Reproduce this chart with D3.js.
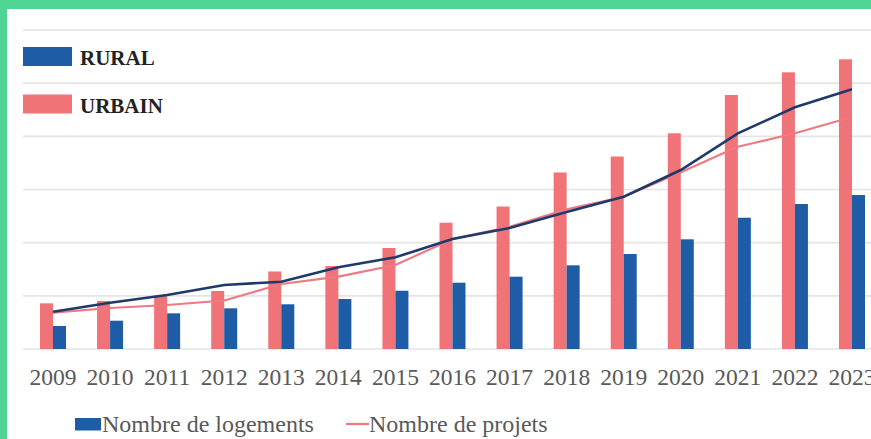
<!DOCTYPE html>
<html>
<head>
<meta charset="utf-8">
<script src="https://cdn.jsdelivr.net/npm/d3@7"></script>
<style>
  html, body { margin: 0; padding: 0; background: #4ed593; }
  svg { display: block; }
</style>
</head>
<body>
<svg id="chart" width="871" height="439"></svg>
<script>
// ---- data ----
const years = ["2009","2010","2011","2012","2013","2014","2015","2016","2017","2018","2019","2020","2021","2022","2023"];
const urbain = [859, 903, 1006, 1091, 1458, 1561, 1900, 2375, 2680, 3320, 3620, 4057, 4777, 5204, 5449];
const rural  = [433, 532, 671, 765, 841, 940, 1096, 1247, 1360, 1574, 1787, 2063, 2469, 2727, 2896];
const logements = [702, 871, 1016, 1204, 1266, 1537, 1725, 2069, 2276, 2577, 2864, 3367, 4057, 4546, 4884];
const projets   = [683, 771, 828, 912, 1222, 1360, 1580, 2069, 2300, 2627, 2864, 3323, 3805, 4057, 4363];
const barSeries = ["URBAIN", "RURAL"];
const topLegend = ["RURAL", "URBAIN"];
const bottomLegend = ["Nombre de logements", "Nombre de projets"];
const yTicks = [0, 1000, 2000, 3000, 4000, 5000, 6000];

// ---- styles ----
const C = {
  pinkBar: "#f07378",
  blueBar: "#1f5ca6",
  navyLine: "#1f3a6a",
  pinkLine: "#ec7a80",
  grid: "#e4e4e4",
  text: "#595959"
};
const serif = "'Liberation Serif', 'Times New Roman', serif";

const svg = d3.select("#chart");
svg.append("rect").attr("x", 7).attr("y", 9).attr("width", 864).attr("height", 430).attr("fill", "#ffffff");

const x = d3.scalePoint().domain(years).range([53, 852]);
const xs = d3.scaleBand().domain(barSeries).range([-13, 13]);
const y = d3.scaleLinear().domain([0, 6000]).range([349, 30]);

// gridlines
svg.append("g").selectAll("line").data(yTicks).join("line")
  .attr("x1", 23).attr("x2", 871)
  .attr("y1", d => y(d)).attr("y2", d => y(d))
  .attr("stroke", C.grid).attr("stroke-width", 1.6);

// bars
const rows = years.map((yr, i) => ({ year: yr, URBAIN: urbain[i], RURAL: rural[i] }));
const colorOf = { URBAIN: C.pinkBar, RURAL: C.blueBar };
const g = svg.append("g").selectAll("g").data(rows).join("g")
  .attr("transform", d => `translate(${x(d.year)},0)`);
g.selectAll("rect").data(d => barSeries.map(k => ({ key: k, value: d[k] }))).join("rect")
  .attr("x", d => xs(d.key))
  .attr("width", xs.bandwidth())
  .attr("y", d => y(d.value))
  .attr("height", d => y(0) - y(d.value))
  .attr("fill", d => colorOf[d.key]);

// lines
const line = d3.line().x((d, i) => x(years[i])).y(d => y(d));
svg.append("path").datum(projets).attr("d", line)
  .attr("fill", "none").attr("stroke", C.pinkLine).attr("stroke-width", 2.2);
svg.append("path").datum(logements).attr("d", line)
  .attr("fill", "none").attr("stroke", C.navyLine).attr("stroke-width", 2.6);

// x labels
svg.append("g").selectAll("text").data(years).join("text")
  .attr("x", d => x(d)).attr("y", 385)
  .attr("text-anchor", "middle")
  .attr("font-family", serif).attr("font-size", 23.5)
  .attr("fill", C.text).text(d => d);

// top-left legend
const tl = svg.append("g").selectAll("g").data(topLegend).join("g")
  .attr("transform", (d, i) => `translate(23,${47 + i * 47.5})`);
tl.append("rect").attr("width", 49).attr("height", 19)
  .attr("fill", d => d === "RURAL" ? C.blueBar : C.pinkBar);
tl.append("text").attr("x", 57).attr("y", 18)
  .attr("font-family", serif).attr("font-size", 21).attr("font-weight", "bold")
  .attr("fill", "#222222").text(d => d);

// bottom legend
const bl = svg.append("g");
bl.append("rect").attr("x", 75).attr("y", 418).attr("width", 26).attr("height", 12.5).attr("fill", C.blueBar);
bl.append("text").attr("x", 102).attr("y", 431.5)
  .attr("font-family", serif).attr("font-size", 24).attr("fill", C.text).text(bottomLegend[0]);
bl.append("line").attr("x1", 346).attr("x2", 369).attr("y1", 424).attr("y2", 424)
  .attr("stroke", C.pinkLine).attr("stroke-width", 2.2);
bl.append("text").attr("x", 369).attr("y", 431.5)
  .attr("font-family", serif).attr("font-size", 24).attr("fill", C.text).text(bottomLegend[1]);
</script>
</body>
</html>
